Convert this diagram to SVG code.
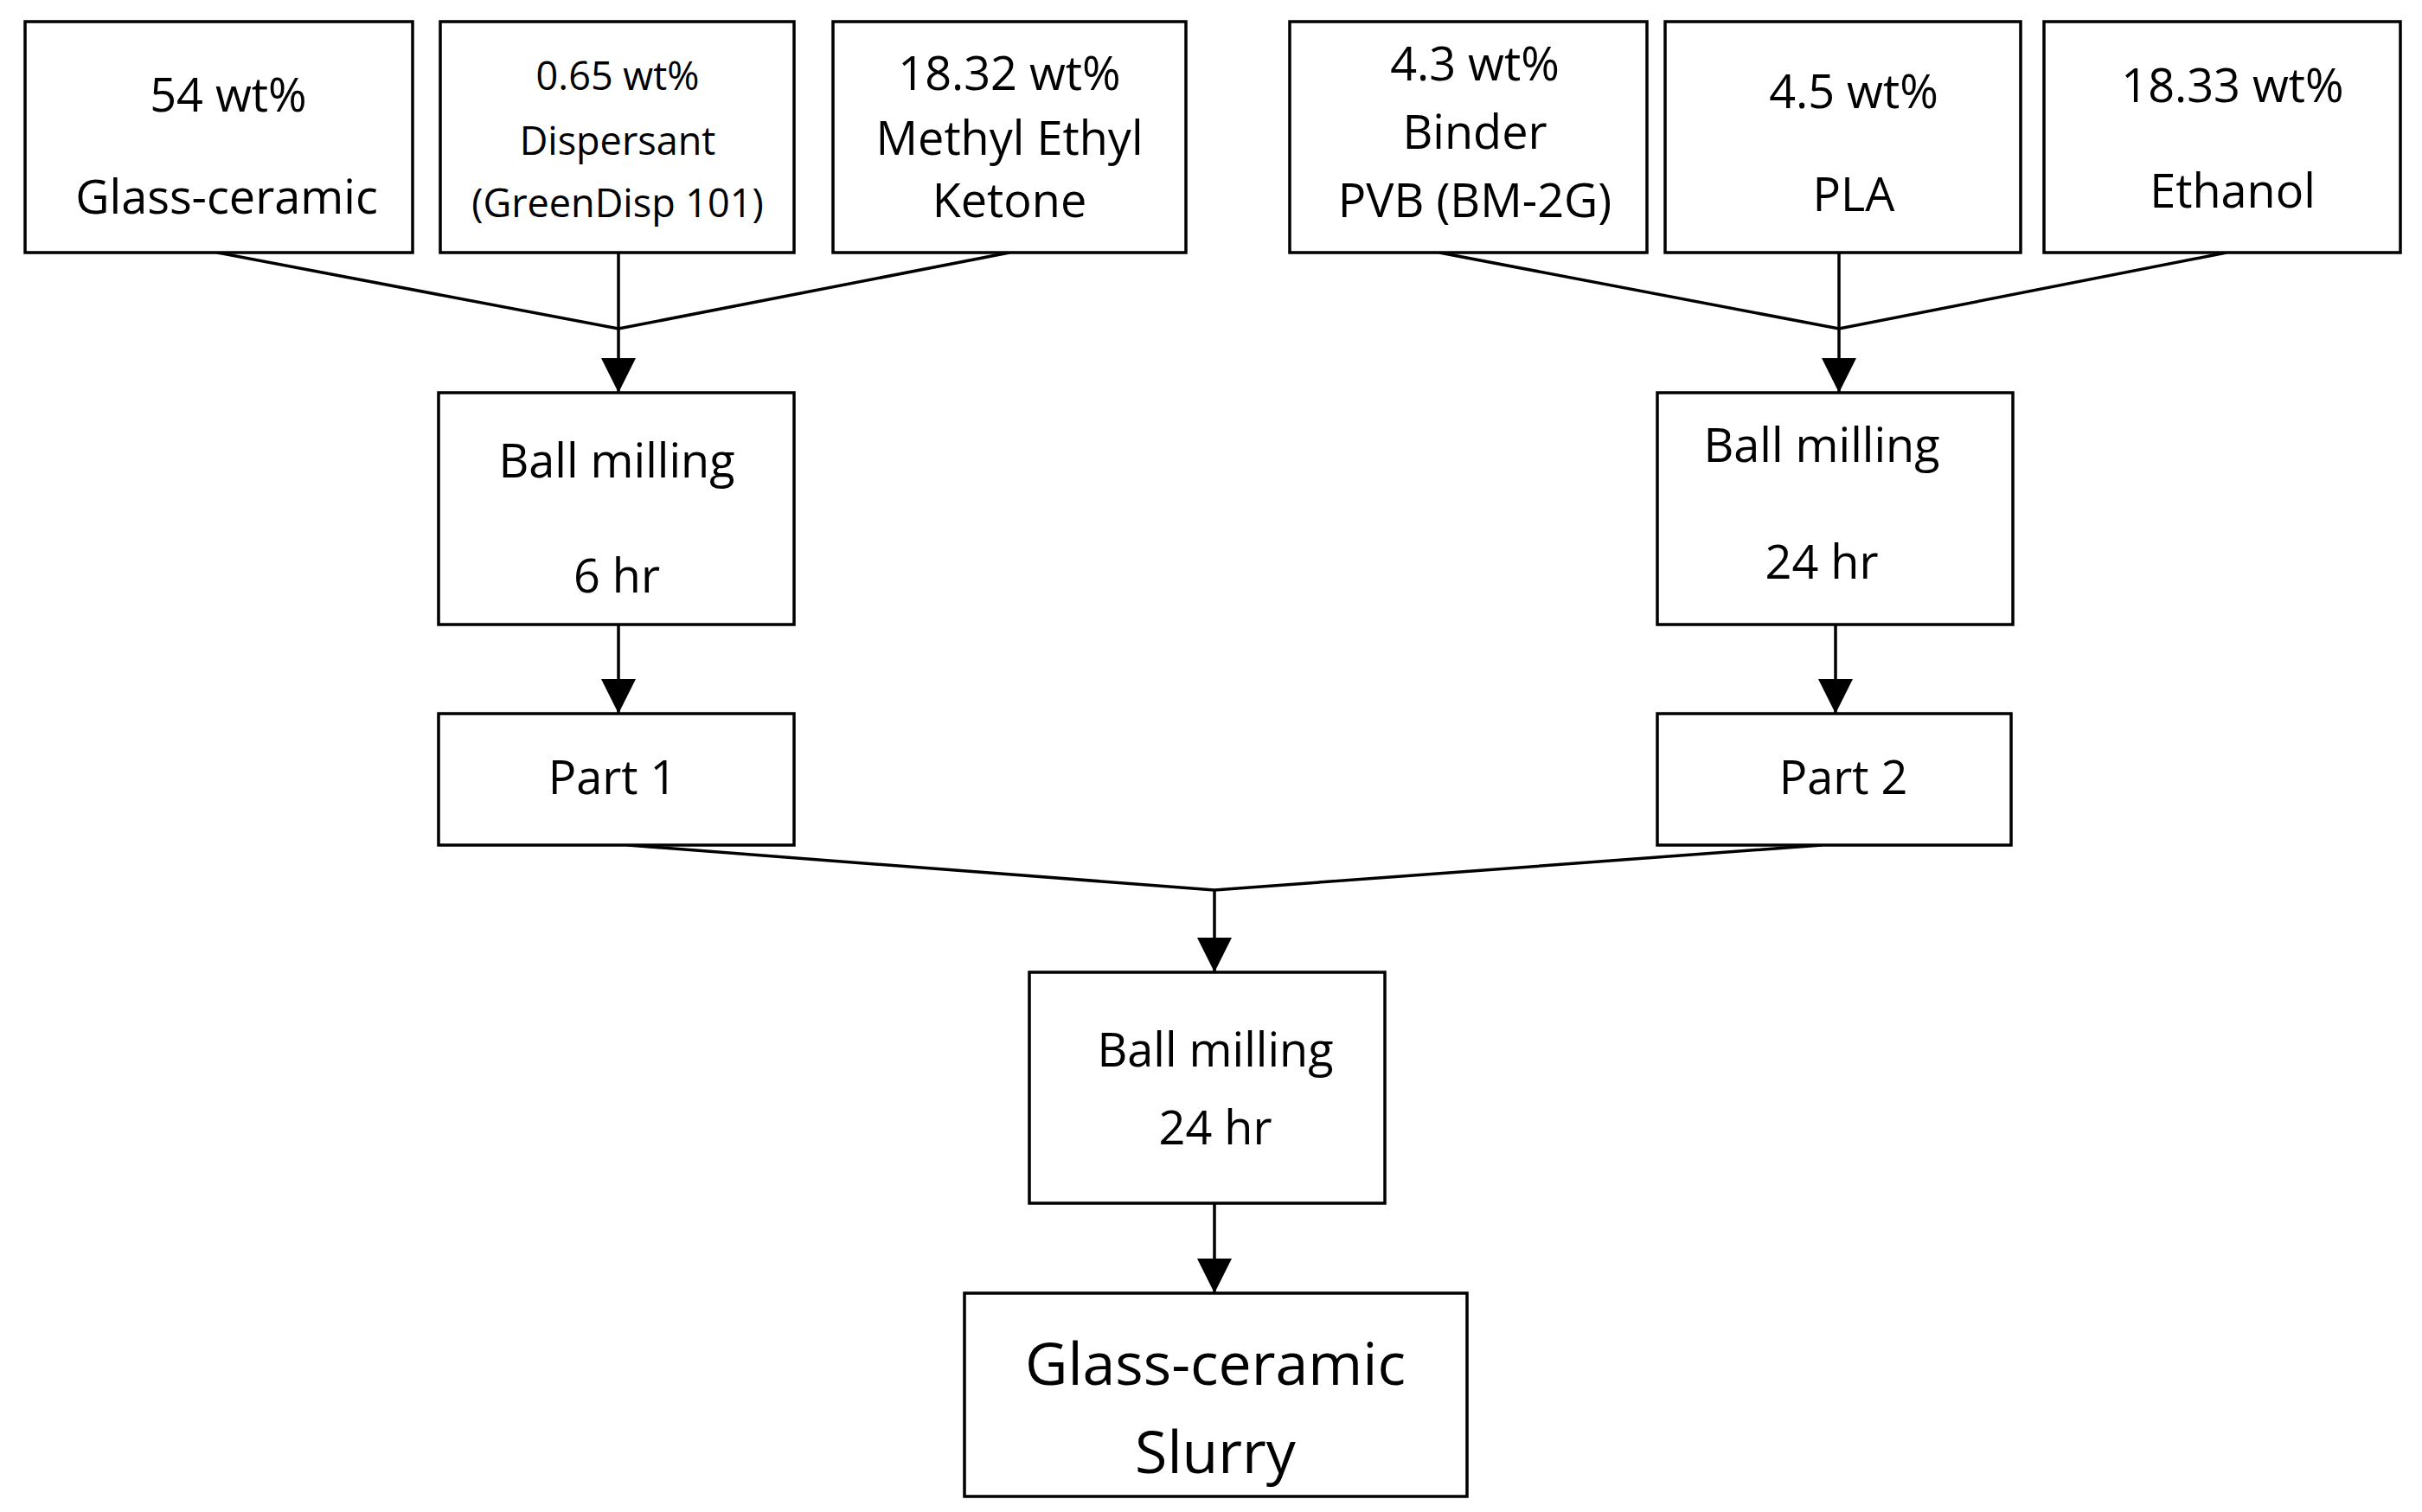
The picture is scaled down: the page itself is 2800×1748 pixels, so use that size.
<svg xmlns="http://www.w3.org/2000/svg" width="2800" height="1748" viewBox="0 0 2800 1748">
<defs>
<style>
.b{fill:#fff;stroke:#000;stroke-width:3.5}
.t{font-family:"Open Sans","Liberation Sans",sans-serif;font-size:54px;text-anchor:middle;fill:#000}
.s{font-size:45px}
.l{font-size:68px}
.c{fill:none;stroke:#000;stroke-width:3.5}
</style>
<marker id="a" viewBox="0 0 10 10" refX="10" refY="5" markerWidth="8" markerHeight="8" markerUnits="userSpaceOnUse" orient="auto"><path d="M0,0L10,5L0,10z"/></marker>
<marker id="ah" viewBox="0 0 40 40" refX="40" refY="20" markerWidth="40" markerHeight="40" markerUnits="userSpaceOnUse" orient="auto"><path d="M0,0L40,20L0,40z"/></marker>
</defs>
<rect width="2800" height="1748" fill="#fff"/>
<g id="connectors">
<polyline class="c" points="251,292 715,380 1167,292"/>
<line class="c" x1="715" y1="292" x2="715" y2="454" marker-end="url(#ah)"/>
<polyline class="c" points="1664,292 2126,380 2574,292"/>
<line class="c" x1="2126" y1="292" x2="2126" y2="454" marker-end="url(#ah)"/>
<line class="c" x1="715" y1="722" x2="715" y2="825" marker-end="url(#ah)"/>
<line class="c" x1="2122" y1="722" x2="2122" y2="825" marker-end="url(#ah)"/>
<polyline class="c" points="726,977 1404,1029 2106,977"/>
<line class="c" x1="1404" y1="1029" x2="1404" y2="1124" marker-end="url(#ah)"/>
<line class="c" x1="1404" y1="1391" x2="1404" y2="1495" marker-end="url(#ah)"/>
</g>
<g id="n1"><rect class="b" x="29" y="25" width="448" height="267"/><text class="t" x="264" y="129">54 wt%</text><text class="t" x="262" y="247">Glass-ceramic</text></g>
<g id="n2"><rect class="b" x="509" y="25" width="409" height="267"/><text class="t s" x="714" y="104">0.65 wt%</text><text class="t s" x="714" y="179">Dispersant</text><text class="t s" x="714" y="251">(GreenDisp 101)</text></g>
<g id="n3"><rect class="b" x="963" y="25" width="408" height="267"/><text class="t" x="1167" y="104">18.32 wt%</text><text class="t" x="1167" y="179">Methyl Ethyl</text><text class="t" x="1167" y="251">Ketone</text></g>
<g id="n4"><rect class="b" x="1491" y="25" width="413" height="267"/><text class="t" x="1705" y="93">4.3 wt%</text><text class="t" x="1705" y="172">Binder</text><text class="t" x="1705" y="251">PVB (BM-2G)</text></g>
<g id="n5"><rect class="b" x="1925" y="25" width="411" height="267"/><text class="t" x="2143" y="125">4.5 wt%</text><text class="t" x="2143" y="244">PLA</text></g>
<g id="n6"><rect class="b" x="2363" y="25" width="412" height="267"/><text class="t" x="2581" y="118">18.33 wt%</text><text class="t" x="2581" y="240">Ethanol</text></g>
<g id="n7"><rect class="b" x="507" y="454" width="411" height="268"/><text class="t" x="713" y="552">Ball milling</text><text class="t" x="713" y="685">6 hr</text></g>
<g id="n8"><rect class="b" x="507" y="825" width="411" height="152"/><text class="t" x="708" y="918">Part 1</text></g>
<g id="n9"><rect class="b" x="1916" y="454" width="411" height="268"/><text class="t" x="2106" y="534">Ball milling</text><text class="t" x="2106" y="669">24 hr</text></g>
<g id="n10"><rect class="b" x="1916" y="825" width="409" height="152"/><text class="t" x="2131" y="918">Part 2</text></g>
<g id="n11"><rect class="b" x="1190" y="1124" width="411" height="267"/><text class="t" x="1405" y="1233">Ball milling</text><text class="t" x="1405" y="1323">24 hr</text></g>
<g id="n12"><rect class="b" x="1115" y="1495" width="581" height="235"/><text class="t l" x="1405" y="1601">Glass-ceramic</text><text class="t l" x="1405" y="1703">Slurry</text></g>
</svg>
